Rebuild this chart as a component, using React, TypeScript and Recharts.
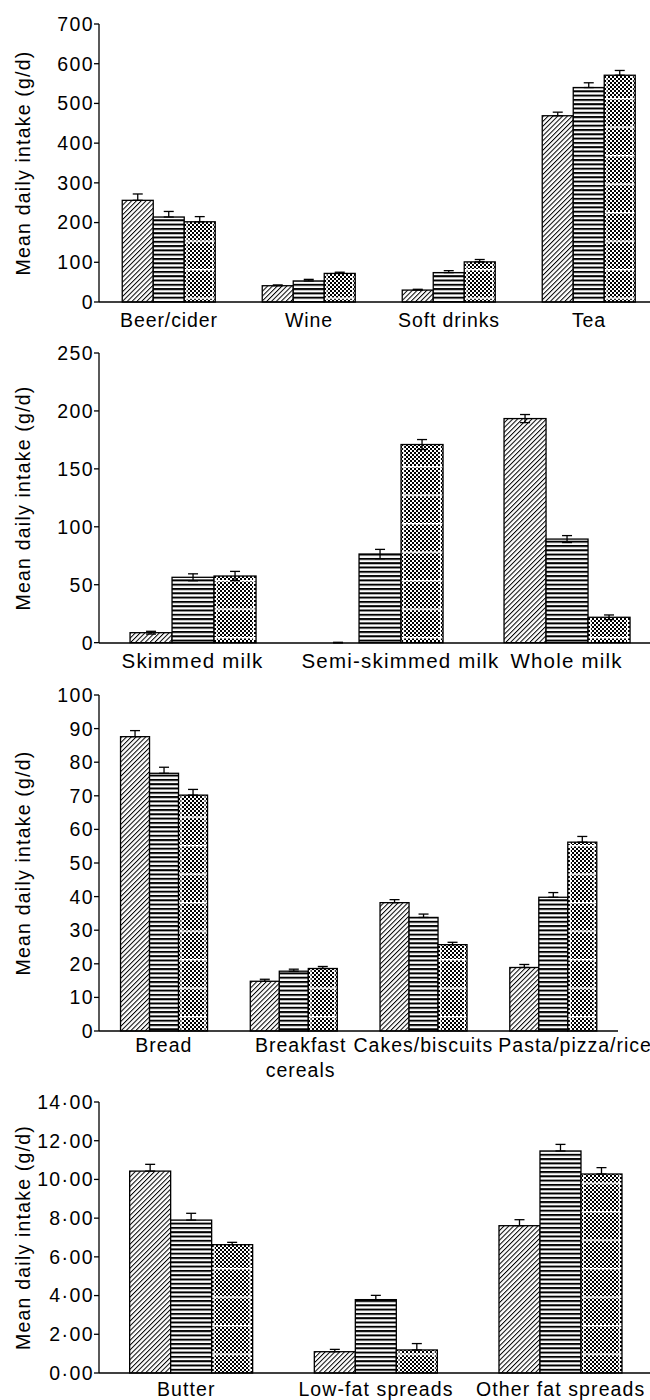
import React from 'react';
import { BarChart, Bar, XAxis, YAxis, ErrorBar, Label } from 'recharts';

const FONT = '"Liberation Sans", Arial, Helvetica, sans-serif';

// ---------- Panel 1: beverages ----------
const bevCategories = ['Beer/cider', 'Wine', 'Soft drinks', 'Tea'];
const bevS1 = [256, 41, 30, 469];
const bevS1Err = [16, 2, 2, 9];
const bevS2 = [214, 53, 74, 540];
const bevS2Err = [14, 4, 5, 12];
const bevS3 = [202, 72, 101, 571];
const bevS3Err = [13, 3, 6, 12];
const bevTicks = [0, 100, 200, 300, 400, 500, 600, 700];

// ---------- Panel 2: milk ----------
const milkCategories = ['Skimmed milk', 'Semi-skimmed milk', 'Whole milk'];
const milkS1 = [8.6, 0, 193.4];
const milkS1Err = [1.2, 0.3, 3.5];
const milkS2 = [56.4, 76.5, 89.4];
const milkS2Err = [3, 4, 3];
const milkS3 = [57.5, 171, 21.9];
const milkS3Err = [4, 4.3, 2];
const milkTicks = [0, 50, 100, 150, 200, 250];

// ---------- Panel 3: cereals ----------
const cerCategories = ['Bread', 'Breakfast\ncereals', 'Cakes/biscuits', 'Pasta/pizza/rice'];
const cerS1 = [87.6, 14.8, 38.2, 18.9];
const cerS1Err = [1.8, 0.6, 0.9, 0.9];
const cerS2 = [76.7, 17.8, 33.8, 39.8];
const cerS2Err = [1.8, 0.6, 1.0, 1.4];
const cerS3 = [70.2, 18.6, 25.7, 56.2];
const cerS3Err = [1.7, 0.6, 0.7, 1.7];
const cerTicks = [0, 10, 20, 30, 40, 50, 60, 70, 80, 90, 100];

// ---------- Panel 4: fats ----------
const fatCategories = ['Butter', 'Low-fat spreads', 'Other fat spreads'];
const fatS1 = [10.43, 1.1, 7.61];
const fatS1Err = [0.35, 0.12, 0.31];
const fatS2 = [7.9, 3.79, 11.47];
const fatS2Err = [0.35, 0.22, 0.34];
const fatS3 = [6.63, 1.19, 10.28];
const fatS3Err = [0.12, 0.33, 0.33];
const fatTicks = [0, 2, 4, 6, 8, 10, 12, 14];

// label placement tweaks (layout only)
const milkLabelShift: Record<string, number> = { 'Semi-skimmed milk': 21 };
const cerLabelShift: Record<string, number> = { 'Breakfast\ncereals': 7, 'Pasta/pizza/rice': 22 };
const fatLabelShift: Record<string, number> = { Butter: -5 };

const fmtDot = (v: number) => v.toFixed(2).replace('.', '\u00B7');

function buildData(cats: string[], a: number[], ea: number[], b: number[], eb: number[], c: number[], ec: number[], symmetric: boolean) {
  return cats.map((name, i) => ({
    name,
    a: a[i],
    b: b[i],
    c: c[i],
    ea: symmetric ? [ea[i], ea[i]] : [0, ea[i]],
    eb: symmetric ? [eb[i], eb[i]] : [0, eb[i]],
    ec: symmetric ? [ec[i], ec[i]] : [0, ec[i]],
  }));
}

const bevData = buildData(bevCategories, bevS1, bevS1Err, bevS2, bevS2Err, bevS3, bevS3Err, false);
const milkData = buildData(milkCategories, milkS1, milkS1Err, milkS2, milkS2Err, milkS3, milkS3Err, true);
const cerData = buildData(cerCategories, cerS1, cerS1Err, cerS2, cerS2Err, cerS3, cerS3Err, false);
const fatData = buildData(fatCategories, fatS1, fatS1Err, fatS2, fatS2Err, fatS3, fatS3Err, false);

const Patterns = ({ id, wl }: { id: string; wl: number }) => (
  <>
    <pattern id={`${id}-hatch`} patternUnits="userSpaceOnUse" width={3.4} height={3.4} patternTransform="rotate(45)">
      <rect width={3.4} height={3.4} fill="#fff" />
      <line x1={0.5} y1={0} x2={0.5} y2={3.4} stroke="#000" strokeWidth={1} />
    </pattern>
    <pattern id={`${id}-horiz`} patternUnits="userSpaceOnUse" width={10} height={4.3}>
      <rect width={10} height={4.3} fill="#fff" />
      <rect y={0} width={10} height={2} fill="#000" />
    </pattern>
    <pattern id={`${id}-check`} patternUnits="userSpaceOnUse" width={4} height={4}>
      <rect width={4} height={4} fill="#fff" />
      <rect width={2} height={2} fill="#000" />
      <rect x={2} y={2} width={2} height={2} fill="#000" />
    </pattern>
    <pattern id={`${id}-wl`} patternUnits="userSpaceOnUse" width={10} height={28.5} patternTransform={`translate(0 ${wl})`}>
      <rect y={0} width={10} height={1.4} fill="#fff" />
    </pattern>
  </>
);

const plainShape = (fillId: string) => (props: any) => {
  const { x, y, width, height } = props;
  if (!height || height <= 0.01) return <g />;
  return <rect x={x} y={y} width={width} height={height} fill={`url(#${fillId})`} stroke="#000" strokeWidth={1.3} />;
};

const checkShape = (id: string) => (props: any) => {
  const { x, y, width, height } = props;
  if (!height || height <= 0.01) return <g />;
  return (
    <g>
      <rect x={x} y={y} width={width} height={height} fill={`url(#${id}-check)`} />
      <rect x={x} y={y} width={width} height={height} fill={`url(#${id}-wl)`} />
      <line x1={x + 2.6} x2={x + 2.6} y1={y} y2={y + height} stroke="#fff" strokeWidth={1} />
      <line x1={x + width - 2.6} x2={x + width - 2.6} y1={y} y2={y + height} stroke="#fff" strokeWidth={1} />
      <rect x={x} y={y} width={width} height={height} fill="none" stroke="#000" strokeWidth={1.3} />
    </g>
  );
};

const makeXTick = (off: number, fontSize: number, spacing: number, shift: Record<string, number>) => (props: any) => {
  const { x, y, payload } = props;
  const label = String(payload.value);
  const lines = label.split('\n');
  const cx = x + (shift[label] || 0);
  return (
    <text x={cx} y={y + off} textAnchor="middle" fontFamily={FONT} fontSize={fontSize} letterSpacing={spacing} fill="#000">
      {lines.map((l, i) => (
        <tspan key={i} x={cx} dy={i === 0 ? 0 : 25}>{l}</tspan>
      ))}
    </text>
  );
};

const YTitle = (props: any) => {
  const vb = props.viewBox || {};
  const cy = (vb.y || 0) + (vb.height || 0) / 2;
  const cx = 23;
  return (
    <text x={cx} y={cy} transform={`rotate(-90 ${cx} ${cy})`} textAnchor="middle" dominantBaseline="central"
      fontFamily={FONT} fontSize={19.5} letterSpacing={1.2} fill="#000">
      Mean daily intake (g/d)
    </text>
  );
};

type PanelProps = {
  id: string;
  top: number;
  width: number;
  height: number;
  marginTop: number;
  marginRight: number;
  xAxisHeight: number;
  marginBottom: number;
  data: any[];
  domain: [number, number];
  ticks: number[];
  fmt?: (v: number) => string;
  labelOff: number;
  labelSize: number;
  labelSpacing: number;
  shift: Record<string, number>;
};

const Panel = (p: PanelProps) => (
  <div style={{ position: 'absolute', left: 0, top: p.top }}>
    <BarChart
      width={p.width}
      height={p.height}
      data={p.data}
      margin={{ top: p.marginTop, right: p.marginRight, left: 0, bottom: p.marginBottom }}
      barGap={0}
      barCategoryGap="16.6%"
    >
      <XAxis
        dataKey="name"
        interval={0}
        tickLine={false}
        tickSize={0}
        tickMargin={0}
        height={p.xAxisHeight}
        axisLine={{ stroke: '#000', strokeWidth: 1.3 }}
        tick={makeXTick(p.labelOff, p.labelSize, p.labelSpacing, p.shift)}
      />
      <YAxis
        type="number"
        width={99}
        domain={p.domain}
        ticks={p.ticks}
        interval={0}
        tickSize={5}
        tickMargin={0}
        tickFormatter={p.fmt}
        axisLine={{ stroke: '#000', strokeWidth: 1.3 }}
        tickLine={{ stroke: '#000', strokeWidth: 1.3 }}
        tick={{ fill: '#000', fontSize: 19.5, fontFamily: FONT, letterSpacing: 1.4 }}
      >
        <Label content={YTitle} />
      </YAxis>
      <Bar dataKey="a" isAnimationActive={false} shape={plainShape(`${p.id}-hatch`)}>
        <ErrorBar dataKey="ea" width={5} stroke="#000" strokeWidth={1.3} direction="y" />
      </Bar>
      <Bar dataKey="b" isAnimationActive={false} shape={plainShape(`${p.id}-horiz`)}>
        <ErrorBar dataKey="eb" width={5} stroke="#000" strokeWidth={1.3} direction="y" />
      </Bar>
      <Bar dataKey="c" isAnimationActive={false} shape={checkShape(p.id)}>
        <ErrorBar dataKey="ec" width={5} stroke="#000" strokeWidth={1.3} direction="y" />
      </Bar>
    </BarChart>
  </div>
);

export default function App() {
  return (
    <div style={{ position: 'fixed', left: 0, top: 0, width: 650, height: 1400, overflow: 'hidden', background: '#fff' }}>
      <svg width={0} height={0} style={{ position: 'absolute' }}>
        <defs>
          <Patterns id="p1" wl={12.5} />
          <Patterns id="p2" wl={22} />
          <Patterns id="p3" wl={22.5} />
          <Patterns id="p4" wl={12} />
        </defs>
      </svg>
      <Panel id="p1" top={0} width={660} height={340} marginTop={24} marginRight={1} xAxisHeight={30} marginBottom={8}
        data={bevData} domain={[0, 700]} ticks={bevTicks} labelOff={25.3} labelSize={19.5} labelSpacing={0.9} shift={{}} />
      <Panel id="p2" top={330} width={660} height={350} marginTop={23} marginRight={0} xAxisHeight={30} marginBottom={7}
        data={milkData} domain={[0, 250]} ticks={milkTicks} labelOff={25.3} labelSize={20.5} labelSpacing={1.2} shift={milkLabelShift} />
      <Panel id="p3" top={680} width={660} height={405} marginTop={15} marginRight={42} xAxisHeight={40} marginBottom={14}
        data={cerData} domain={[0, 100]} ticks={cerTicks} labelOff={21} labelSize={19.5} labelSpacing={1.0} shift={cerLabelShift} />
      <Panel id="p4" top={1085} width={660} height={315} marginTop={17} marginRight={7} xAxisHeight={20} marginBottom={7}
        data={fatData} domain={[0, 14]} ticks={fatTicks} fmt={fmtDot} labelOff={23} labelSize={19.5} labelSpacing={1.1} shift={fatLabelShift} />
    </div>
  );
}
